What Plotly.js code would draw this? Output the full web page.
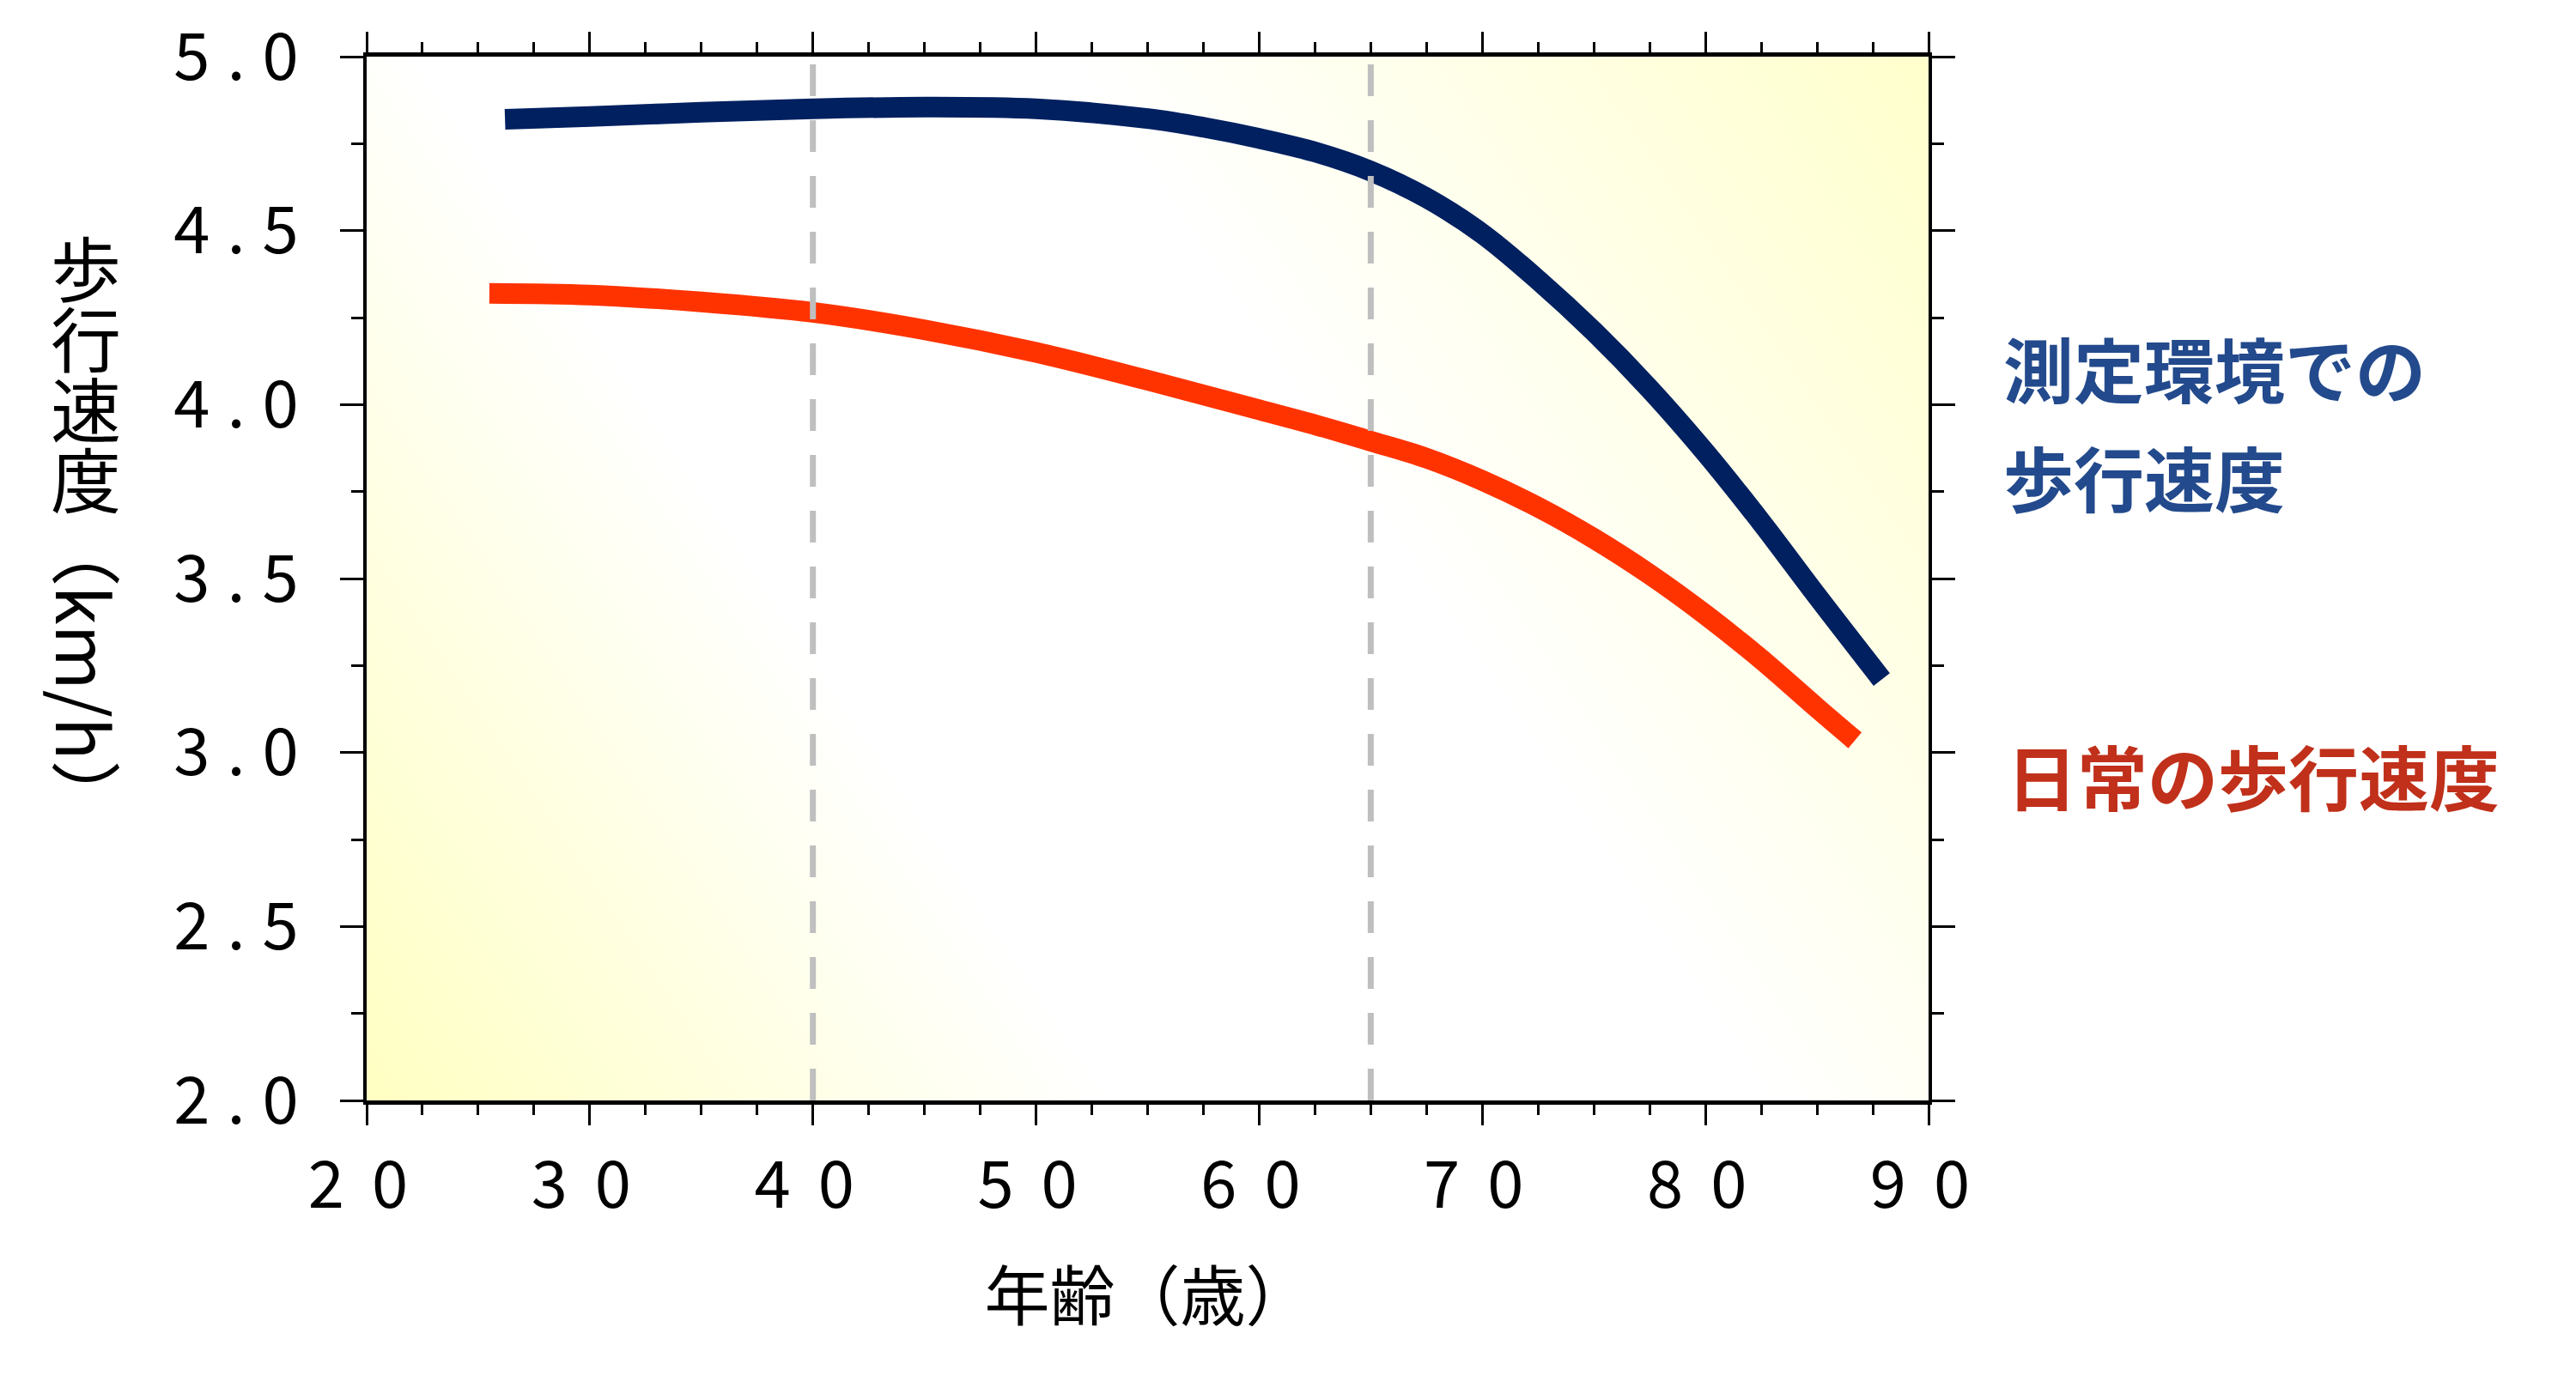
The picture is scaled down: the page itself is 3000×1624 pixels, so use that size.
<!DOCTYPE html>
<html>
<head>
<meta charset="utf-8">
<script src="https://cdn.plot.ly/plotly-3.0.1.min.js"></script>
<style>
  body { margin: 0; background: #fff; }
  #chart { width: 3000px; height: 1624px; }
  /* the original spreads its tick digits out */
  .xtick text { letter-spacing: 32px; }
  .ytick text { letter-spacing: 20px; }
</style>
</head>
<body>
<div id="chart"></div>
<script>
// walking speed by age
const labAges = [26.2, 30, 35, 40, 45, 50, 55, 57.5, 60, 62.5, 65, 67.5, 70, 72.5, 75, 77.5, 80, 82.5, 85, 87.9];
const labSpeed = [4.82, 4.828, 4.84, 4.85, 4.855, 4.85, 4.822, 4.797, 4.765, 4.726, 4.671, 4.594, 4.491, 4.358, 4.21, 4.045, 3.862, 3.662, 3.45, 3.21];

const dailyAges = [25.5, 30, 35, 40, 45, 50, 55, 60, 62.5, 65, 67.5, 70, 72.5, 75, 77.5, 80, 82.5, 85, 86.7];
const dailySpeed = [4.32, 4.315, 4.295, 4.265, 4.215, 4.15, 4.07, 3.985, 3.942, 3.895, 3.846, 3.782, 3.705, 3.615, 3.512, 3.396, 3.268, 3.128, 3.035];

const xTickVals = [20, 30, 40, 50, 60, 70, 80, 90];
const xTickLabels = ["20", "30", "40", "50", "60", "70", "80", "90"];
const yTickVals = [2.0, 2.5, 3.0, 3.5, 4.0, 4.5, 5.0];
const yTickLabels = ["2.0", "2.5", "3.0", "3.5", "4.0", "4.5", "5.0"];

const guideAges = [40, 65];

const labName = "測定環境での歩行速度";
const dailyName = "日常の歩行速度";

const FONT = '"Noto Sans CJK JP", "Noto Sans", sans-serif';

// soft yellow corners behind the plot area
function makeBackground(w, h) {
  const canvas = document.createElement("canvas");
  canvas.width = w;
  canvas.height = h;
  const ctx = canvas.getContext("2d");
  const g = ctx.createLinearGradient(0, h, w, 0);
  g.addColorStop(0, "#ffffc2");
  g.addColorStop(0.33, "#ffffff");
  g.addColorStop(0.62, "#ffffff");
  g.addColorStop(1, "#ffffcc");
  ctx.fillStyle = g;
  ctx.fillRect(0, 0, w, h);
  return canvas.toDataURL();
}

const data = [
  {
    type: "scatter",
    mode: "lines",
    name: dailyName,
    x: dailyAges,
    y: dailySpeed,
    line: { color: "#ff3300", width: 24, shape: "spline", smoothing: 1 },
    hoverinfo: "skip",
  },
  {
    type: "scatter",
    mode: "lines",
    name: labName,
    x: labAges,
    y: labSpeed,
    line: { color: "#002060", width: 24, shape: "spline", smoothing: 1 },
    hoverinfo: "skip",
  },
];

const shapes = guideAges.map((a) => ({
  type: "line",
  xref: "x",
  yref: "paper",
  x0: a,
  x1: a,
  y0: 0,
  y1: 1,
  line: { color: "#bfbfbf", width: 7, dash: "37px,28px" },
}));

const labelStyle = (color) => ({
  family: FONT,
  size: 82,
  color: color,
  weight: "bold",
});

const annotations = [
  {
    text: "測定環境での",
    xref: "paper",
    yref: "paper",
    x: 1.047,
    y: 0.703,
    xanchor: "left",
    yanchor: "middle",
    showarrow: false,
    font: labelStyle("#234a8c"),
  },
  {
    text: "歩行速度",
    xref: "paper",
    yref: "paper",
    x: 1.047,
    y: 0.598,
    xanchor: "left",
    yanchor: "middle",
    showarrow: false,
    font: labelStyle("#234a8c"),
  },
  {
    text: dailyName,
    xref: "paper",
    yref: "paper",
    x: 1.049,
    y: 0.312,
    xanchor: "left",
    yanchor: "middle",
    showarrow: false,
    font: labelStyle("#c0301a"),
  },
];

const layout = {
  width: 3000,
  height: 1624,
  margin: { l: 427, r: 754, t: 66, b: 342 },
  paper_bgcolor: "#ffffff",
  plot_bgcolor: "#ffffff",
  showlegend: false,
  font: { family: FONT, color: "#000000" },
  xaxis: {
    range: [20, 90],
    tickvals: xTickVals,
    ticktext: xTickLabels,
    ticks: "outside",
    ticklen: 24,
    tickwidth: 3,
    tickcolor: "#000",
    minor: { dtick: 2.5, ticks: "outside", ticklen: 12, tickwidth: 3, tickcolor: "#000" },
    showline: true,
    linewidth: 5,
    linecolor: "#000",
    mirror: "ticks",
    showgrid: false,
    zeroline: false,
    ticklabelstandoff: 5,
    ticklabelshift: 6,
    tickfont: { family: FONT, size: 76, color: "#000" },
    title: {
      text: "年齢（歳）",
      font: { family: FONT, size: 76, color: "#000" },
      standoff: 58,
    },
  },
  yaxis: {
    range: [2, 5],
    tickvals: yTickVals,
    ticktext: yTickLabels,
    ticks: "outside",
    ticklen: 27,
    tickwidth: 3,
    tickcolor: "#000",
    minor: { dtick: 0.25, ticks: "outside", ticklen: 14, tickwidth: 3, tickcolor: "#000" },
    showline: true,
    linewidth: 4,
    linecolor: "#000",
    mirror: "ticks",
    showgrid: false,
    zeroline: false,
    ticklabelstandoff: 13,
    tickfont: { family: FONT, size: 76, color: "#000" },
    title: {
      text: "歩行速度（km/h）",
      font: { family: FONT, size: 82, color: "#000" },
      standoff: 40,
    },
  },
  shapes: shapes,
  annotations: annotations,
  images: [
    {
      source: makeBackground(1819, 1216),
      xref: "paper",
      yref: "paper",
      x: 0,
      y: 1,
      sizex: 1,
      sizey: 1,
      sizing: "stretch",
      layer: "below",
    },
  ],
};

const config = { staticPlot: true, displayModeBar: false };

Plotly.newPlot("chart", data, layout, config).then((gd) => {
  // set the y title in vertical Japanese writing, like the original
  const t = gd.querySelector(".ytitle");
  if (t) {
    t.removeAttribute("transform");
    t.setAttribute("x", 100);
    t.setAttribute("y", 620);
    t.setAttribute("text-anchor", "middle");
    t.style.writingMode = "vertical-rl";
  }
});
</script>
</body>
</html>
